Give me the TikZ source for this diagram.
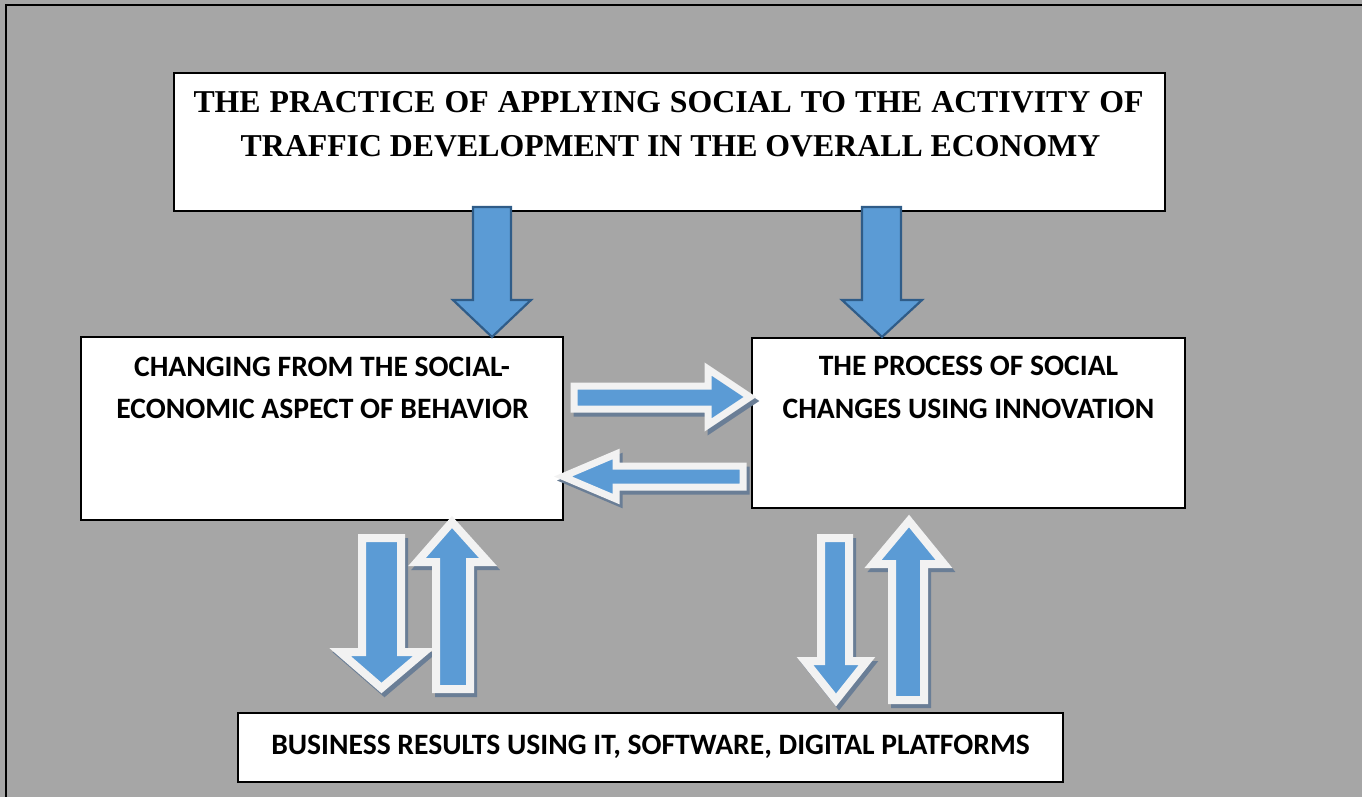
\documentclass[tikz,border=0pt]{standalone}
\usepackage{fontspec}
\setmainfont{Carlito}
\newfontfamily\titlefont{Liberation Serif}
\definecolor{bggray}{HTML}{A6A6A6}
\definecolor{arrowblue}{HTML}{5B9BD5}
\definecolor{arrowdark}{HTML}{2F5C88}
\definecolor{arrowwhite}{HTML}{F2F2F2}
\definecolor{shadowc}{RGB}{106,126,150}
\tikzset{
  box/.style={draw=black, fill=white, line width=1.5pt, inner sep=0pt, outer sep=0pt, rectangle},
  titletext/.style={anchor=base, inner sep=0pt, font=\titlefont\bfseries\fontsize{31.8}{38}\selectfont},
  bodytext/.style={anchor=base, inner sep=0pt, font=\bfseries\fontsize{29.6}{35}\selectfont},
  darrow/.style={fill=arrowblue, draw=arrowdark, line width=2.2pt, line join=miter},
  warrow/.style={fill=arrowblue, draw=arrowwhite, line width=#1, line join=miter, miter limit=10},
  wshadow/.style={fill=shadowc, draw=shadowc, line width=#1, line join=miter, miter limit=10, shift={(3,4)}},
}
\newcommand\wblock[2]{\draw[wshadow=#1] #2; \draw[warrow=#1] #2;}
\begin{document}
\begin{tikzpicture}[x=1pt, y=-1pt]
\useasboundingbox (0,0) rectangle (1362,797);
\fill[bggray] (0,0) rectangle (1362,797);
\draw[line width=2.2pt, black] (6,797) -- (6,5) -- (1362,5);

% boxes
\node[box, minimum width=991pt, minimum height=138pt] (top) at (669.5,142) {};
\node[box, minimum width=482pt, minimum height=183pt] (left) at (322,428.5) {};
\node[box, minimum width=433pt, minimum height=170pt] (right) at (968.5,423) {};
\node[box, minimum width=825pt, minimum height=69pt] (bottom) at (650.5,747.5) {};

% texts
\node[titletext] (t1) at (668.5,113) {\makebox[950pt][s]{THE PRACTICE OF APPLYING SOCIAL TO THE ACTIVITY OF}};
\node[titletext] (t2) at (670.5,157) {TRAFFIC DEVELOPMENT IN THE OVERALL ECONOMY};
\node[bodytext] (l1) at (322,376) {CHANGING FROM THE SOCIAL-};
\node[bodytext] (l2) at (322.5,418) {ECONOMIC ASPECT OF BEHAVIOR};
\node[bodytext] (r1) at (968.5,375) {THE PROCESS OF SOCIAL};
\node[bodytext] (r2) at (968.5,418) {CHANGES USING INNOVATION};
\node[bodytext] (b1) at (650.5,754) {BUSINESS RESULTS USING IT, SOFTWARE, DIGITAL PLATFORMS};

% top down arrows
\draw[darrow] (473,207) -- (511,207) -- (511,300) -- (531,300) -- (492,337) -- (453,300) -- (473,300) -- cycle;
\draw[darrow] (862,207) -- (901,207) -- (901,300) -- (922,300) -- (882,337) -- (842,300) -- (862,300) -- cycle;

% horizontal arrows
\wblock{7pt}{(574,386) -- (708,386) -- (708,369) -- (750,397) -- (708,425) -- (708,409) -- (574,409) -- cycle}
\wblock{7pt}{(743,466) -- (616,466) -- (616,454) -- (563,476.5) -- (616,499) -- (616,487) -- (743,487) -- cycle}

% bottom left pair
\wblock{8pt}{(362,538) -- (401,538) -- (401,652) -- (424,652) -- (381.5,688) -- (340,652) -- (362,652) -- cycle}
\wblock{8pt}{(436,689) -- (470,689) -- (470,562) -- (488,562) -- (452,522) -- (417,562) -- (436,562) -- cycle}

% bottom right pair
\wblock{8pt}{(821,538) -- (849,538) -- (849,661) -- (867,661) -- (836,700) -- (805,661) -- (821,661) -- cycle}
\wblock{8pt}{(892,700) -- (924,700) -- (924,564) -- (944,564) -- (909,521) -- (873,564) -- (892,564) -- cycle}
\end{tikzpicture}
\end{document}
